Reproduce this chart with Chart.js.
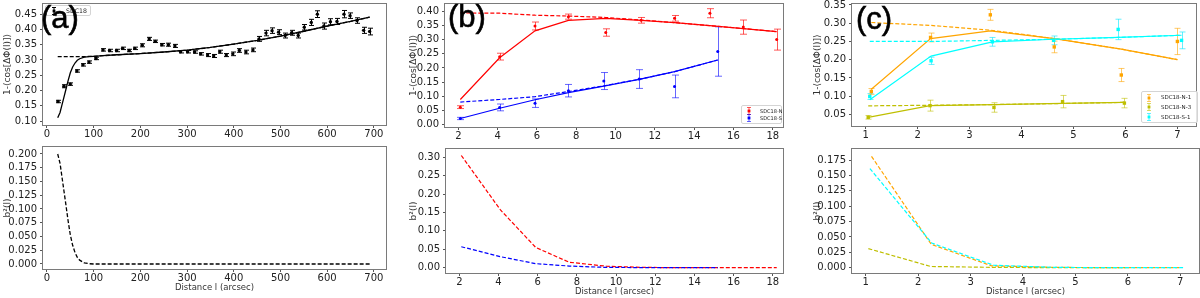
<!DOCTYPE html>
<html>
<head>
<meta charset="utf-8">
<script src="https://cdn.jsdelivr.net/npm/chart.js@4.4.1/dist/chart.umd.min.js"></script>
<style>
body { margin: 0; background: #fff; }
#fig { position: relative; width: 1200px; height: 298px; overflow: hidden; background: #fff; }
#fig canvas { position: absolute; }
.tag { position: absolute; font-family: "Liberation Sans", Arial, sans-serif; font-size: 31px; line-height: 31px; color: #000; z-index: 5; -webkit-text-stroke: 0.6px #000; }
.leg { position: absolute; background: rgba(255,255,255,0.8); border: 1px solid #d4d4d4; border-radius: 2px; font-family: "DejaVu Sans", sans-serif; color: #222; z-index: 4; box-sizing: border-box; }
.leg div, .leg svg { position: absolute; white-space: nowrap; }
</style>
</head>
<body>
<div id="fig"></div>
<script>
"use strict";
// ---- panel (a): SDC18 ----
var aDist = [23.6, 36.4, 50, 64, 77, 90, 105, 120, 134, 149, 162, 176, 188, 204, 219, 232, 246, 260, 274, 286,
             301, 316, 329, 344, 357, 370, 384, 398, 412, 426, 441, 454, 469, 482, 496, 510, 524, 538, 551, 566,
             579, 593, 607, 621, 636, 649, 664, 678, 691];
var aPhi = [0.164, 0.214, 0.221, 0.264, 0.284, 0.293, 0.305, 0.333, 0.331, 0.331, 0.338, 0.331, 0.338, 0.348, 0.369, 0.361, 0.350, 0.350, 0.346, 0.327,
            0.327, 0.326, 0.320, 0.316, 0.313, 0.327, 0.316, 0.320, 0.331, 0.326, 0.333, 0.369, 0.388, 0.396, 0.391, 0.380, 0.389, 0.380, 0.407, 0.423,
            0.450, 0.411, 0.425, 0.426, 0.450, 0.445, 0.429, 0.397, 0.393];
var aErr = [0.004, 0.005, 0.004, 0.004, 0.004, 0.004, 0.004, 0.004, 0.004, 0.004, 0.004, 0.004, 0.004, 0.005, 0.005, 0.004, 0.004, 0.005, 0.005, 0.004,
            0.004, 0.004, 0.004, 0.005, 0.005, 0.005, 0.005, 0.006, 0.006, 0.006, 0.006, 0.008, 0.009, 0.009, 0.008, 0.008, 0.008, 0.008, 0.009, 0.010,
            0.011, 0.010, 0.010, 0.010, 0.012, 0.009, 0.009, 0.010, 0.011];
var aFitDist = [23, 28, 32, 36, 40, 45, 50, 55, 60, 65, 70, 80, 90, 100, 120, 150, 200, 250, 300, 350, 400, 450, 500, 550, 600, 650, 691];
var aFit = [0.111, 0.128, 0.152, 0.176, 0.200, 0.231, 0.258, 0.277, 0.290, 0.299, 0.304, 0.309, 0.311, 0.312, 0.314, 0.317, 0.321, 0.326, 0.332, 0.341,
            0.352, 0.364, 0.378, 0.394, 0.411, 0.426, 0.440];
var aLarge = [0.311, 0.311, 0.311, 0.311, 0.311, 0.311, 0.311, 0.311, 0.311, 0.311, 0.311, 0.311, 0.3115, 0.312, 0.314, 0.317, 0.321, 0.326, 0.332, 0.341,
              0.352, 0.364, 0.378, 0.394, 0.411, 0.426, 0.440];
var aB2 = [0.200, 0.183, 0.159, 0.135, 0.111, 0.080, 0.053, 0.034, 0.021, 0.012, 0.007, 0.002, 0.0005, 0, 0, 0, 0, 0, 0, 0,
           0, 0, 0, 0, 0, 0, 0];

// ---- panel (b): SDC18-N, SDC18-S ----
var bDistN = [2.1, 4.1, 5.9, 7.6, 9.5, 11.3, 13.0, 14.8, 16.5, 18.2];
var bPhiN = [0.062, 0.240, 0.348, 0.381, 0.325, 0.368, 0.375, 0.393, 0.344, 0.300];
var bErrN = [0.005, 0.012, 0.014, 0.009, 0.013, 0.010, 0.010, 0.016, 0.025, 0.037];
var bFitN = [0.089, 0.236, 0.331, 0.368, 0.375, 0.368, 0.360, 0.349, 0.339, 0.328];
var bLargeN = [0.394, 0.393, 0.386, 0.383, 0.378, 0.369, 0.360, 0.349, 0.339, 0.328];
var bB2N = [0.305, 0.157, 0.055, 0.015, 0.004, 0.001, 0, 0, 0, 0];
var bDistS = [2.1, 4.1, 5.9, 7.6, 9.4, 11.2, 13.0, 15.2];
var bPhiS = [0.022, 0.061, 0.076, 0.120, 0.154, 0.161, 0.135, 0.258];
var bErrS = [0.004, 0.012, 0.015, 0.022, 0.030, 0.033, 0.040, 0.087];
var bFitS = [0.022, 0.058, 0.088, 0.113, 0.136, 0.160, 0.187, 0.228];
var bLargeS = [0.080, 0.089, 0.099, 0.117, 0.137, 0.160, 0.187, 0.228];
var bB2S = [0.057, 0.030, 0.011, 0.0045, 0.001, 0.0003, 0, 0];

// ---- panel (c): SDC18-N-1, SDC18-N-3, SDC18-S-1 ----
var cDistN1 = [1.11, 2.25, 3.40, 4.63, 5.92, 7.00];
var cPhiN1 = [0.113, 0.261, 0.323, 0.235, 0.158, 0.250];
var cErrN1 = [0.008, 0.012, 0.015, 0.016, 0.018, 0.036];
var cFitN1 = [0.119, 0.258, 0.279, 0.258, 0.229, 0.200];
var cLargeN1 = [0.302, 0.294, 0.281, 0.258, 0.229, 0.200];
var cB2N1 = [0.181, 0.038, 0.003, 0.0005, 0, 0];
var cDistN3 = [1.05, 2.24, 3.47, 4.79, 5.98];
var cPhiN3 = [0.042, 0.074, 0.069, 0.085, 0.081];
var cErrN3 = [0.005, 0.015, 0.013, 0.017, 0.013];
var cFitN3 = [0.042, 0.074, 0.077, 0.080, 0.083];
var cLargeN3 = [0.0735, 0.075, 0.077, 0.080, 0.083];
var cB2N3 = [0.031, 0.002, 0.0005, 0, 0];
var cDistS1 = [1.08, 2.26, 3.44, 4.62, 5.86, 7.08];
var cPhiS1 = [0.099, 0.197, 0.249, 0.253, 0.283, 0.253];
var cErrS1 = [0.008, 0.010, 0.012, 0.012, 0.028, 0.023];
var cFitS1 = [0.090, 0.210, 0.249, 0.256, 0.261, 0.267];
var cLargeS1 = [0.250, 0.250, 0.253, 0.256, 0.261, 0.267];
var cB2S1 = [0.161, 0.040, 0.004, 0.0005, 0, 0];

// ---- tick labels ----
var aXTicks = [0, 100, 200, 300, 400, 500, 600, 700];
var bXTicks = [2, 4, 6, 8, 10, 12, 14, 16, 18];
var cXTicks = [1, 2, 3, 4, 5, 6, 7];
var aTopTicks = [0.10, 0.15, 0.20, 0.25, 0.30, 0.35, 0.40, 0.45];
var aBotTicks = [0, 0.025, 0.05, 0.075, 0.1, 0.125, 0.15, 0.175, 0.2];
var bTopTicks = [0, 0.05, 0.10, 0.15, 0.20, 0.25, 0.30, 0.35, 0.40];
var bBotTicks = [0, 0.05, 0.10, 0.15, 0.20, 0.25, 0.30];
var cTopTicks = [0.05, 0.10, 0.15, 0.20, 0.25, 0.30, 0.35];
var cBotTicks = [0, 0.025, 0.05, 0.075, 0.1, 0.125, 0.15, 0.175];

var phiTitle = '1-\u27E8cos[\u0394\u03A6(l)]\u27E9';
var b2Title = 'b\u00B2(l)';
var xTitle = 'Distance l (arcsec)';

Chart.defaults.font.family = '"DejaVu Sans", sans-serif';
var fig = document.getElementById('fig');

function pts(xs, ys) {
    return xs.map((x, i) => ({x: x, y: ys[i]}));
}

function points(xs, ys, errs, color, errColor, radius, style, cap) {
    return {data: pts(xs, ys), showLine: false, pointRadius: radius, pointStyle: style,
            backgroundColor: color, borderColor: color, borderWidth: 0,
            errors: errs, errColor: errColor, cap: cap};
}

function curve(xs, ys, color, dashed, width) {
    return {data: pts(xs, ys), showLine: true, pointRadius: 0, borderColor: color,
            borderWidth: width || 1.3, borderDash: dashed ? [4, 2] : [], fill: false, tension: 0};
}

// error bars drawn through the chart's own scales
var errorBars = {
    id: 'errorBars',
    beforeDatasetsDraw: (chart) => {
        var ctx = chart.ctx, sx = chart.scales.x, sy = chart.scales.y;
        chart.data.datasets.forEach((ds) => {
            if (!ds.errors) return;
            ctx.save();
            ctx.strokeStyle = ds.errColor;
            ctx.lineWidth = 1;
            ds.data.forEach((p, i) => {
                var px = Math.round(sx.getPixelForValue(p.x)) + 0.5;
                var top = sy.getPixelForValue(p.y + ds.errors[i]);
                var bot = sy.getPixelForValue(p.y - ds.errors[i]);
                ctx.beginPath();
                ctx.moveTo(px, top); ctx.lineTo(px, bot);
                ctx.moveTo(px - ds.cap, top); ctx.lineTo(px + ds.cap, top);
                ctx.moveTo(px - ds.cap, bot); ctx.lineTo(px + ds.cap, bot);
                ctx.stroke();
            });
            ctx.restore();
        });
    }
};

var frame = {
    id: 'frame',
    afterDraw: (chart) => {
        var a = chart.chartArea, ctx = chart.ctx;
        ctx.save();
        ctx.strokeStyle = '#7a7a7a';
        ctx.lineWidth = 1;
        ctx.strokeRect(Math.round(a.left) - 0.5, Math.round(a.top) - 0.5,
                       Math.round(a.right - a.left) + 1, Math.round(a.bottom - a.top) + 1);
        ctx.restore();
    }
};

function makePanel(box, yW, xH, padT, padR, datasets, xr, xticks, xtitle, yr, yticks, ydec, ytitle) {
    var cv = document.createElement('canvas');
    var w = box[2] - box[0] + yW + padR, h = box[3] - box[1] + padT + xH;
    cv.width = w; cv.height = h;
    cv.style.left = (box[0] - yW) + 'px';
    cv.style.top = (box[1] - padT) + 'px';
    cv.style.width = w + 'px';
    cv.style.height = h + 'px';
    fig.appendChild(cv);
    return new Chart(cv, {
        type: 'scatter',
        data: {datasets: datasets},
        options: {
            responsive: false,
            animation: false,
            devicePixelRatio: 1,
            layout: {padding: {top: padT, right: padR, left: 0, bottom: 0}},
            plugins: {legend: {display: false}, tooltip: {enabled: false}},
            scales: {
                x: {
                    type: 'linear', min: xr[0], max: xr[1],
                    afterBuildTicks: (s) => { s.ticks = xticks.map((v) => ({value: v})); },
                    afterFit: (s) => { s.height = xH; s.paddingLeft = 0; s.paddingRight = 0; },
                    grid: {display: true, drawOnChartArea: false, tickLength: 3, color: '#555'},
                    border: {display: false},
                    ticks: {color: '#222', padding: 1, autoSkip: false, maxRotation: 0,
                            font: {size: 10, lineHeight: 1}, callback: (v) => String(v)},
                    title: {display: !!xtitle, text: xtitle, color: '#333', padding: 0, font: {size: 8.5}}
                },
                y: {
                    type: 'linear', min: yr[0], max: yr[1],
                    afterBuildTicks: (s) => { s.ticks = yticks.map((v) => ({value: v})); },
                    afterFit: (s) => { s.width = yW; s.paddingTop = 0; s.paddingBottom = 0; },
                    grid: {display: true, drawOnChartArea: false, tickLength: 3, color: '#555'},
                    border: {display: false},
                    ticks: {color: '#222', padding: 3, autoSkip: false,
                            font: {size: 10, lineHeight: 1}, callback: (v) => v.toFixed(ydec)},
                    title: {display: true, text: ytitle, color: '#333', padding: 0, font: {size: 9}}
                }
            }
        },
        plugins: [errorBars, frame]
    });
}

var orange = '#ffa500', olive = '#bfbf00', cyan = '#00ffff';

// (a) top and bottom
makePanel([43, 2, 386, 125], 41, 16, 2, 10, [
    points(aDist, aPhi, aErr, '#000', '#000', 1.7, 'circle', 2.5),
    curve(aFitDist, aFit, '#000', false, 1.3),
    curve(aFitDist, aLarge, '#000', true, 1.3)
], [-8.5, 726], aXTicks, '', [0.0871, 0.4832], aTopTicks, 2, phiTitle);

makePanel([43, 147, 386, 269], 41, 24, 8, 10, [
    curve(aFitDist, aB2, '#000', true, 1.3)
], [-8.5, 726], aXTicks, xTitle, [-0.0091, 0.2127], aBotTicks, 3, b2Title);

// (b) top and bottom
makePanel([445, 3, 783, 127], 37, 16, 3, 10, [
    points(bDistN, bPhiN, bErrN, '#ff0000', 'rgba(255,0,0,0.65)', 1.5, 'circle', 3.5),
    points(bDistS, bPhiS, bErrS, '#0000ff', 'rgba(0,0,255,0.6)', 1.5, 'circle', 3.5),
    curve(bDistN, bFitN, '#ff0000', false, 1.2),
    curve(bDistN, bLargeN, '#ff0000', true, 1.2),
    curve(bDistS, bFitS, '#0000ff', false, 1.2),
    curve(bDistS, bLargeS, '#0000ff', true, 1.2)
], [1.32, 18.52], bXTicks, '', [-0.008, 0.4255], bTopTicks, 2, phiTitle);

makePanel([446, 149, 783, 273], 38, 24, 8, 10, [
    curve(bDistS, bB2S, '#0000ff', true, 1.2),
    curve(bDistN, bB2N, '#ff0000', true, 1.2)
], [1.32, 18.52], bXTicks, xTitle, [-0.0144, 0.3226], bBotTicks, 2, b2Title);

// (c) top and bottom
makePanel([852, 3, 1198, 126], 40, 16, 3, 2, [
    points(cDistS1, cPhiS1, cErrS1, cyan, 'rgba(0,230,255,0.6)', 2.4, 'rect', 3),
    points(cDistN3, cPhiN3, cErrN3, olive, 'rgba(191,191,0,0.6)', 2.4, 'rect', 3),
    points(cDistN1, cPhiN1, cErrN1, orange, 'rgba(255,165,0,0.6)', 2.4, 'rect', 3),
    curve(cDistS1, cFitS1, cyan, false, 1.2),
    curve(cDistS1, cLargeS1, cyan, true, 1.2),
    curve(cDistN3, cFitN3, olive, false, 1.2),
    curve(cDistN3, cLargeN3, olive, true, 1.2),
    curve(cDistN1, cFitN1, orange, false, 1.2),
    curve(cDistN1, cLargeN1, orange, true, 1.2)
], [0.738, 7.358], cXTicks, '', [0.0182, 0.3527], cTopTicks, 2, phiTitle);

makePanel([852, 149, 1199, 273], 40, 24, 8, 1, [
    curve(cDistS1, cB2S1, cyan, true, 1.2),
    curve(cDistN3, cB2N3, olive, true, 1.2),
    curve(cDistN1, cB2N1, orange, true, 1.2)
], [0.738, 7.358], cXTicks, xTitle, [-0.0086, 0.1929], cBotTicks, 3, b2Title);

// legends and panel tags as html text
function marker(color, errColor) {
    var ns = 'http://www.w3.org/2000/svg';
    var svg = document.createElementNS(ns, 'svg');
    svg.setAttribute('width', 8); svg.setAttribute('height', 8);
    svg.innerHTML = '<path d="M4 0.5V7.5M2 0.5H6M2 7.5H6" stroke="' + errColor + '" stroke-width="1" fill="none"/>' +
                    '<rect x="2.6" y="2.6" width="2.8" height="2.8" fill="' + color + '"/>';
    return svg;
}

function legend(left, top, w, h, size, mx, tx, rows) {
    var box = document.createElement('div');
    box.className = 'leg';
    box.style.cssText = 'left:' + left + 'px;top:' + top + 'px;width:' + w + 'px;height:' + h + 'px;font-size:' + size + 'px;';
    rows.forEach((r) => {
        var m = marker(r.color, r.err);
        m.style.left = (mx - 4) + 'px'; m.style.top = (r.y - 4) + 'px';
        box.appendChild(m);
        var t = document.createElement('div');
        t.textContent = r.label;
        t.style.left = tx + 'px'; t.style.top = (r.y - size * 0.6) + 'px';
        t.style.lineHeight = (size * 1.2) + 'px';
        box.appendChild(t);
    });
    fig.appendChild(box);
}

legend(45, 5, 46, 11, 6.2, 8, 20, [{label: 'SDC18', color: '#000', err: '#000', y: 5}]);
legend(741, 105, 41, 19, 5, 7, 18, [
    {label: 'SDC18-N', color: '#ff0000', err: 'rgba(255,0,0,0.65)', y: 4.5},
    {label: 'SDC18-S', color: '#0000ff', err: 'rgba(0,0,255,0.6)', y: 12}
]);
legend(1141, 91, 57, 32, 5.5, 7, 19, [
    {label: 'SDC18-N-1', color: orange, err: 'rgba(255,165,0,0.6)', y: 5.5},
    {label: 'SDC18-N-3', color: olive, err: 'rgba(191,191,0,0.6)', y: 15.3},
    {label: 'SDC18-S-1', color: cyan, err: 'rgba(0,230,255,0.6)', y: 24.8}
]);

[['(a)', 41, 2], ['(b)', 448, 1], ['(c)', 856, 3]].forEach((t) => {
    var d = document.createElement('div');
    d.className = 'tag';
    d.textContent = t[0];
    d.style.left = t[1] + 'px';
    d.style.top = t[2] + 'px';
    fig.appendChild(d);
});
</script>
</body>
</html>
